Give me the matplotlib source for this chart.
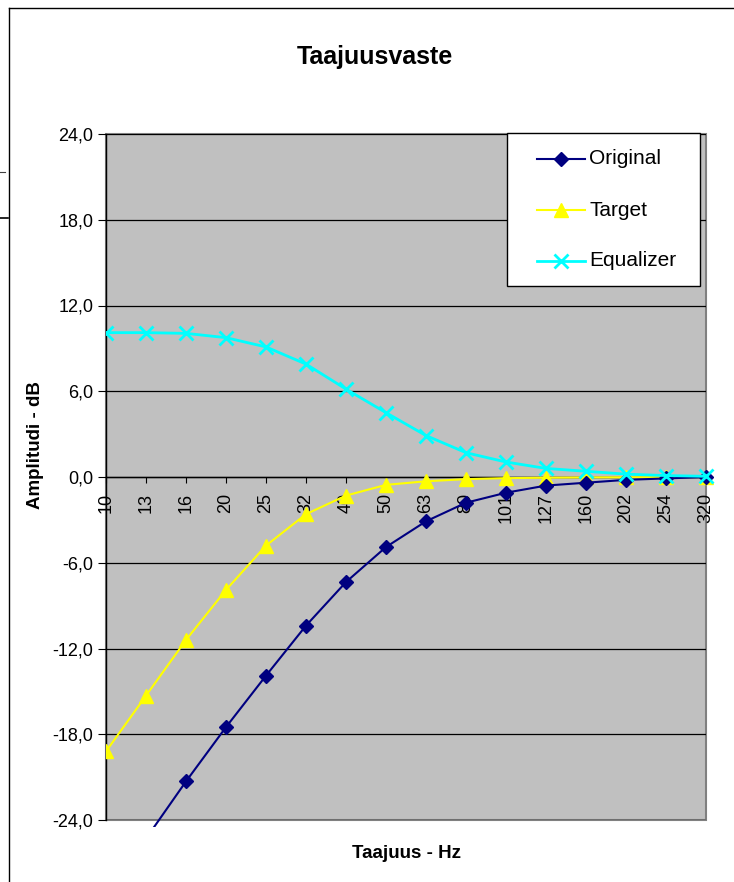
import matplotlib
matplotlib.use("Agg")
import matplotlib.pyplot as plt
from matplotlib.patches import Rectangle
from matplotlib.lines import Line2D
from matplotlib.transforms import Bbox

plt.rcParams['font.family'] = ['Liberation Sans', 'DejaVu Sans']

categories = ['10', '13', '16', '20', '25', '32', '40', '50', '63', '80',
              '101', '127', '160', '202', '254', '320']
original = [-29.3, -25.3, -21.3, -17.5, -13.9, -10.4, -7.35, -4.9, -3.1,
            -1.8, -1.1, -0.6, -0.4, -0.2, -0.1, 0.0]
target = [-19.2, -15.3, -11.4, -7.9, -4.8, -2.6, -1.3, -0.55, -0.3,
          -0.15, -0.08, -0.05, -0.03, -0.02, -0.01, 0.0]
equalizer = [10.1, 10.1, 10.05, 9.75, 9.1, 7.9, 6.15, 4.5, 2.9,
             1.7, 1.05, 0.6, 0.4, 0.2, 0.1, 0.05]
series_names = ['Original', 'Target', 'Equalizer']
yticks = [-24, -18, -12, -6, 0, 6, 12, 18, 24]

W, H = 734, 882
fig = plt.figure(figsize=(W / 100, H / 100), dpi=100)
fig.patch.set_facecolor('white')

L, R, T, B = 106, 706, 134, 820
ax = fig.add_axes([L / W, 1 - B / H, (R - L) / W, (B - T) / H])
ax.set_facecolor('#C0C0C0')
x = list(range(len(categories)))
ax.set_xlim(0, len(categories) - 1)
ax.set_ylim(-24, 24)

ax.set_yticks(yticks)
ax.yaxis.grid(True, color='black', linewidth=0.9)
ax.set_axisbelow(True)
ax.set_yticklabels([('%.1f' % v).replace('.', ',') for v in yticks], fontsize=13)

for s in ['top', 'right']:
    ax.spines[s].set_visible(False)
ax.spines['left'].set_color('black')
ax.spines['left'].set_linewidth(1.0)
ax.spines['bottom'].set_position(('data', 0))
ax.spines['bottom'].set_color('black')
ax.spines['bottom'].set_linewidth(1.0)
ax.add_patch(Rectangle((0, 0), 1, 1, transform=ax.transAxes, fill=False,
                       edgecolor='#808080', linewidth=1.5, zorder=0.5, clip_on=False))

ax.set_xticks(x)
ax.set_xticklabels(categories, rotation=90, fontsize=13)
ax.tick_params(axis='x', direction='out', length=4.3, pad=7.2, color='black')
ax.tick_params(axis='y', direction='out', length=6, pad=3, color='black')

clip = Bbox.from_extents(L, H - B - 7, R + 10, H - T + 10)

styles = [dict(color='#000080', lw=1.5, marker='D', ms=7, mfc='#000080', mec='#000080'),
          dict(color='#FFFF00', lw=1.5, marker='^', ms=10, mfc='#FFFF00', mec='#FFFF00'),
          dict(color='#00FFFF', lw=2.0, marker='x', ms=10, mew=2, mec='#00FFFF')]
zs = [5, 4, 6]
for vals, name, st, z in zip([original, target, equalizer], series_names, styles, zs):
    ln, = ax.plot(x, vals, label=name, zorder=z, **st)
    ln.set_clip_box(clip)

def fx(px):
    return px / W

def fy(py):
    return 1 - py / H

# legend box
fig.add_artist(Rectangle((fx(507), fy(286)), fx(700) - fx(507), fy(133) - fy(286),
                         transform=fig.transFigure, facecolor='white',
                         edgecolor='black', linewidth=1.0, zorder=10))
for i, (name, st) in enumerate(zip(series_names, styles)):
    yy = fy(159 + 51 * i)
    fig.add_artist(Line2D([fx(537), fx(585)], [yy, yy], transform=fig.transFigure,
                          color=st['color'], lw=st['lw'], zorder=11))
    mk = {k: v for k, v in st.items() if k not in ('lw', 'color')}
    fig.add_artist(Line2D([fx(561)], [yy], transform=fig.transFigure, linestyle='none',
                          zorder=12, **mk))
    fig.text(fx(589), yy, name, fontsize=15, ha='left', va='center', zorder=12)

fig.text(375 / W, 1 - 57 / H, 'Taajuusvaste', ha='center', va='center',
         fontsize=18, fontweight='bold')
fig.text(407 / W, 1 - 853 / H, 'Taajuus - Hz', ha='center', va='center',
         fontsize=13.5, fontweight='bold')
fig.text(35 / W, 1 - 445 / H, 'Amplitudi - dB', ha='center', va='center',
         fontsize=13.5, fontweight='bold', rotation=90)

# chart border and fragments at left edge
fig.add_artist(Line2D([9 / W, 9 / W], [0, 1 - 8 / H], transform=fig.transFigure,
                      color='black', lw=1.0))
fig.add_artist(Line2D([9 / W, 1], [1 - 8 / H, 1 - 8 / H], transform=fig.transFigure,
                      color='black', lw=1.0))
fig.add_artist(Line2D([0, 5 / W], [1 - 172 / H, 1 - 172 / H], transform=fig.transFigure,
                      color='#404040', lw=0.8))
fig.add_artist(Line2D([0, 8 / W], [1 - 218 / H, 1 - 218 / H], transform=fig.transFigure,
                      color='black', lw=1.2))

fig.savefig('out.png', dpi=100)
